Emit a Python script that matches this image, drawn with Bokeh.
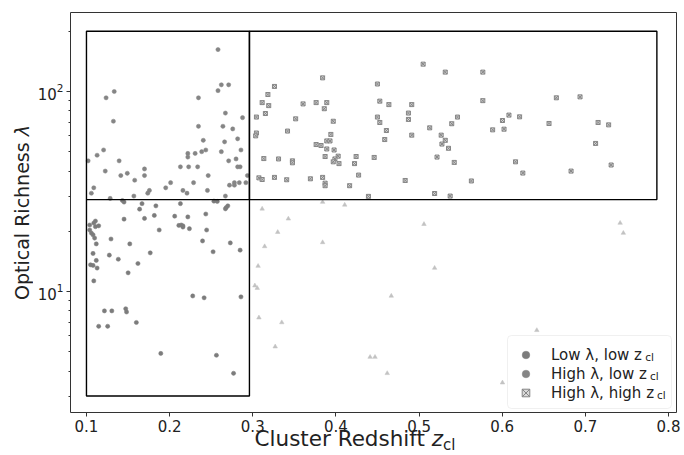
from bokeh.plotting import figure
from bokeh.layouts import column, row
from bokeh.models import (Range1d, FixedTicker, LogTickFormatter, Label, Legend, LegendItem, Div,
                          BoxAnnotation)
from bokeh.core.properties import value
from bokeh.embed import file_html
from bokeh.resources import INLINE

# ---------------- data ----------------
LOWLAM_LOWZ_Z = [0.1432, 0.1452, 0.1668, 0.1639, 0.1835, 0.2130, 0.2533, 0.2573, 0.2700, 0.2681, 0.2671,
                 0.1108, 0.1088, 0.1039, 0.1108, 0.1147, 0.1039, 0.1059, 0.1079, 0.1098, 0.1118,
                 0.1295, 0.1452, 0.1698, 0.1816, 0.2061, 0.2219, 0.2111, 0.2140, 0.2160, 0.2160,
                 0.2238, 0.1875, 0.2435, 0.2445, 0.1521, 0.2396, 0.2730, 0.2848, 0.2523, 0.1767,
                 0.1079, 0.1275, 0.1383, 0.1118, 0.1049, 0.1079, 0.1128, 0.1619, 0.1501, 0.1088,
                 0.2278, 0.2415, 0.2858, 0.1216, 0.1305, 0.1472, 0.1482, 0.1600, 0.1147, 0.1255,
                 0.1894, 0.2563, 0.2769]
LOWLAM_LOWZ_LAM = [28.5, 28.0, 27.5, 25.8, 26.8, 27.5, 28.3, 28.2, 26.8, 26.3, 25.9,
                   22.5, 22.0, 21.5, 21.1, 21.3, 20.3, 19.6, 19.2, 18.5, 17.3,
                   18.3, 23.0, 23.2, 24.0, 23.8, 23.6, 21.4, 21.5, 21.0, 21.3,
                   20.6, 20.3, 24.4, 20.3, 17.3, 17.9, 17.5, 16.1, 15.8, 15.6,
                   15.5, 15.2, 14.5, 14.3, 13.6, 13.5, 13.1, 13.8, 12.4, 11.3,
                   9.5, 9.3, 9.4, 8.0, 8.0, 8.2, 7.9, 7.0, 6.7, 6.7,
                   4.9, 4.8, 3.9]

HIGHLAM_LOWZ_Z = [0.2582, 0.1236, 0.1334, 0.1324, 0.2582, 0.2622, 0.2710, 0.2347, 0.2671, 0.2877,
                  0.2641, 0.2759, 0.2347, 0.2818, 0.2405, 0.2661, 0.2858, 0.2622, 0.2435, 0.2386,
                  0.2307, 0.2219, 0.2219, 0.1206, 0.1128, 0.1020, 0.1393, 0.1226, 0.1698, 0.1698,
                  0.1491, 0.1413, 0.1580, 0.2130, 0.2229, 0.2337, 0.2464, 0.2710, 0.2799, 0.2818,
                  0.2848, 0.2288, 0.2012, 0.1953, 0.1757, 0.1737, 0.1570, 0.1285, 0.1088, 0.1059,
                  0.2160, 0.2209, 0.2455, 0.2671, 0.2720, 0.2779, 0.2779, 0.2838, 0.2917, 0.2936]
HIGHLAM_LOWZ_LAM = [162, 93, 100, 71, 101, 108, 108, 93, 78, 74,
                    67, 65, 67, 58, 57, 56, 51, 50, 51, 50,
                    49, 49, 47, 51, 48, 45, 45, 40, 41, 38,
                    39, 38, 36, 42, 42, 42, 38, 45, 46, 42,
                    42, 35, 35, 33, 32, 31, 30, 29.2, 33, 31,
                    32, 31, 32, 30, 34, 35, 34, 35, 35, 38]

HIGHLAM_HIGHZ_Z = [0.3840, 0.3261, 0.4499, 0.5049, 0.5315, 0.3182, 0.3113, 0.3192, 0.3152, 0.3044,
                   0.3605, 0.3762, 0.3890, 0.3860, 0.4528, 0.4637, 0.4912, 0.3516, 0.3968, 0.4499,
                   0.4528, 0.4872, 0.4872, 0.5462, 0.5393, 0.5128, 0.3418, 0.3044, 0.3035, 0.3939,
                   0.4607, 0.4587, 0.4912, 0.5266, 0.5315, 0.5275, 0.5354, 0.3762, 0.3821, 0.3890,
                   0.3929, 0.3890, 0.3978, 0.3870, 0.4027, 0.3988, 0.3968, 0.4037, 0.4243, 0.4224,
                   0.4460, 0.5216, 0.5423, 0.3133, 0.3310, 0.3477, 0.3477, 0.4273, 0.3074, 0.3113,
                   0.3261, 0.3408, 0.3693, 0.3840, 0.3870, 0.3870, 0.4165, 0.4833, 0.4391, 0.5187,
                   0.5374, 0.5767, 0.5767, 0.6651, 0.6936, 0.6003, 0.6081, 0.6209, 0.5885, 0.6022,
                   0.6563, 0.7153, 0.7280, 0.7123, 0.6160, 0.6248, 0.6828, 0.7310, 0.5629]
HIGHLAM_HIGHZ_LAM = [117, 106, 109, 137, 125, 96.6, 88, 85, 77.6, 74.5,
                     86.7, 88, 88, 82, 89.5, 86, 86, 73, 71, 74.5,
                     70, 78, 72.5, 74.5, 69, 65.8, 63.4, 62, 60, 61,
                     63.8, 57.5, 60.5, 60.5, 57, 54.6, 52, 54.3, 53.7, 56.6,
                     56.6, 51.6, 51, 47.3, 47.5, 46, 44.5, 43.6, 47.3, 43.6,
                     46.8, 47, 44.2, 46.2, 46, 45, 44, 38.2, 37, 36.3,
                     37.2, 36.2, 36.6, 37.2, 34.8, 33.8, 33.8, 35.9, 29.9, 30.9,
                     30, 125, 90, 93, 94, 71.6, 76.2, 74.7, 64.3, 64.8,
                     69.2, 70, 68.1, 55, 44.5, 39.1, 40, 42.9, 35.7]

LOWLAM_HIGHZ_Z = [0.3113, 0.3840, 0.4106, 0.3428, 0.3300, 0.3143, 0.3840, 0.5059, 0.7418, 0.7457,
                  0.3064, 0.5187, 0.3025, 0.3054, 0.4666, 0.3074, 0.3349, 0.6416, 0.3270, 0.4411,
                  0.4470, 0.4617, 0.6003]
LOWLAM_HIGHZ_LAM = [25.9, 28, 27.1, 23.1, 19.8, 16.8, 17.6, 21.7, 22.0, 19.6,
                    13.4, 13.1, 10.7, 10.4, 9.5, 7.4, 7.0, 6.4, 5.3, 4.7,
                    4.7, 3.9, 3.5]

Z_EDGES = [0.1, 0.296, 0.786]      # redshift bin edges of the selection boxes
LAM_EDGES = [3, 28.8, 200]         # richness bin edges
X_TICKS = [0.1, 0.2, 0.3, 0.4, 0.5, 0.6, 0.7, 0.8]
Y_TICKS = [10, 100]
Y_MINOR = [3, 4, 5, 6, 7, 8, 9, 20, 30, 40, 50, 60, 70, 80, 90, 200]
LEGEND_LABELS = ["Low λ, low z", "High λ, low z", "High λ, high z"]

FONT = "DejaVu Sans"

# rough DejaVu Sans advance widths (em), used to place the legend subscripts
W = {" ": 0.318, ",": 0.318, "H": 0.752, "L": 0.557, "i": 0.278, "g": 0.635, "h": 0.634,
     "o": 0.612, "w": 0.818, "l": 0.278, "z": 0.525, "λ": 0.592, "c": 0.55}


def text_w(s, size):
    return sum(W.get(ch, 0.6) for ch in s) * size


p = figure(width=650, height=440, y_axis_type="log",
           x_range=Range1d(0.0808, 0.8096), y_range=Range1d(2.483, 248.3),
           output_backend="svg", toolbar_location=None,
           min_border_left=34, min_border_right=8, min_border_top=12, min_border_bottom=28)

p.background_fill_color = "white"
p.border_fill_color = "white"
p.outline_line_color = "#333333"
p.outline_line_width = 1
p.grid.visible = False

p.xaxis.ticker = FixedTicker(ticks=X_TICKS)
p.yaxis.ticker = FixedTicker(ticks=Y_TICKS, minor_ticks=Y_MINOR)
p.yaxis.formatter = LogTickFormatter()
for ax in (p.xaxis, p.yaxis):
    ax.axis_line_color = None
    ax.major_tick_line_color = "#333333"
    ax.minor_tick_line_color = "#333333"
    ax.major_tick_in = 0
    ax.major_tick_out = 4
    ax.minor_tick_in = 0
    ax.minor_tick_out = 2
    ax.major_label_text_font = FONT
    ax.major_label_text_font_size = "15px"
    ax.major_label_text_color = "#222222"
    ax.major_label_standoff = 3
p.xaxis.minor_tick_out = 0

# points
r_ll = p.scatter(LOWLAM_LOWZ_Z, LOWLAM_LOWZ_LAM, marker="circle", size=4.2,
                 fill_color="#7c7c7c", line_color="#7c7c7c", line_width=0.5)
r_hl = p.scatter(HIGHLAM_LOWZ_Z, HIGHLAM_LOWZ_LAM, marker="circle", size=4.2,
                 fill_color="#858585", line_color="#858585", line_width=0.5)
r_hh = p.scatter(HIGHLAM_HIGHZ_Z, HIGHLAM_HIGHZ_LAM, marker="square_x", size=4,
                 fill_color="#d9d9d9", line_color="#858585", line_width=1)
r_lh = p.scatter(LOWLAM_HIGHZ_Z, LOWLAM_HIGHZ_LAM, marker="triangle", size=4.5,
                 fill_color="#c2c2c2", line_color="#c2c2c2", line_width=0.5)

# selection boxes
p.quad(left=[Z_EDGES[0], Z_EDGES[1]], right=[Z_EDGES[1], Z_EDGES[2]],
       bottom=[LAM_EDGES[0], LAM_EDGES[1]], top=[LAM_EDGES[2], LAM_EDGES[2]],
       fill_color=None, line_color="black", line_width=1.4)
p.segment(x0=[Z_EDGES[0]], y0=[LAM_EDGES[1]], x1=[Z_EDGES[1]], y1=[LAM_EDGES[1]],
          line_color="black", line_width=1.4)

# legend: frame drawn as a box annotation, entries by Bokeh's Legend
BOX_X, BOX_Y, PAD, GW, GH, STAND, LW = 437, 4, 8, 25, 19, 13, 110
LEG_DX, LEG_DY = 6, 6              # placement correction of the legend entries
leg_w = 2 * PAD + GW + STAND + LW
leg_h = 2 * PAD + 3 * GH
p.add_layout(BoxAnnotation(left=BOX_X, right=BOX_X + leg_w, bottom=BOX_Y, top=BOX_Y + leg_h,
                           left_units="screen", right_units="screen",
                           top_units="screen", bottom_units="screen",
                           fill_color="white", fill_alpha=0.85, line_color="#cccccc",
                           line_width=1, border_radius=4, level="annotation"))
legend = Legend(items=[LegendItem(label=value(LEGEND_LABELS[0]), renderers=[r_ll]),
                       LegendItem(label=value(LEGEND_LABELS[1]), renderers=[r_hl]),
                       LegendItem(label=value(LEGEND_LABELS[2]), renderers=[r_hh])],
                location=(BOX_X + LEG_DX, BOX_Y + LEG_DY), margin=0, padding=PAD, spacing=0,
                glyph_width=GW, glyph_height=GH, label_height=GH, label_width=LW,
                label_standoff=STAND, label_text_font=FONT, label_text_font_size="15px",
                label_text_color="#222222",
                border_line_color=None, background_fill_alpha=0)
p.add_layout(legend, "center")

# subscripts "cl" of the legend entries
text_left = BOX_X + PAD + GW + STAND
row_mid = [BOX_Y + PAD + GH * 2.5, BOX_Y + PAD + GH * 1.5, BOX_Y + PAD + GH * 0.5]
for lab, ym in zip(LEGEND_LABELS, row_mid):
    p.add_layout(Label(x=text_left + text_w(lab, 15) + 0.5, y=ym - 4, x_units="screen",
                       y_units="screen", text="cl", text_font=FONT, text_font_size="10.5px",
                       text_color="#222222", text_align="left", text_baseline="middle",
                       level="overlay"))

# axis titles as HTML text (italic symbols and subscript)
ylabel = Div(text=("<div style=\"width:24px;height:425px;margin-left:10px;writing-mode:vertical-rl;"
                   "transform:rotate(180deg);text-align:center;line-height:24px;"
                   "font-family:'DejaVu Sans';font-size:19px;color:#222222;white-space:nowrap\">"
                   "Optical Richness <i>λ</i></div>"),
             width=34, height=440, margin=0, styles={"overflow": "visible"})
xlabel = Div(text=("<div style=\"position:relative;top:-13px;margin-left:51px;width:608px;"
                   "text-align:center;line-height:24px;font-family:'DejaVu Sans';font-size:21.5px;"
                   "color:#222222;white-space:nowrap\">Cluster Redshift <i>z</i>"
                   "<span style=\"font-size:15px;position:relative;top:4px\">cl</span></div>"),
             width=684, height=15, margin=0, styles={"overflow": "visible"})

layout = column(row(ylabel, p, spacing=0), xlabel, spacing=0)

open("out.html", "w").write(file_html(layout, INLINE))
